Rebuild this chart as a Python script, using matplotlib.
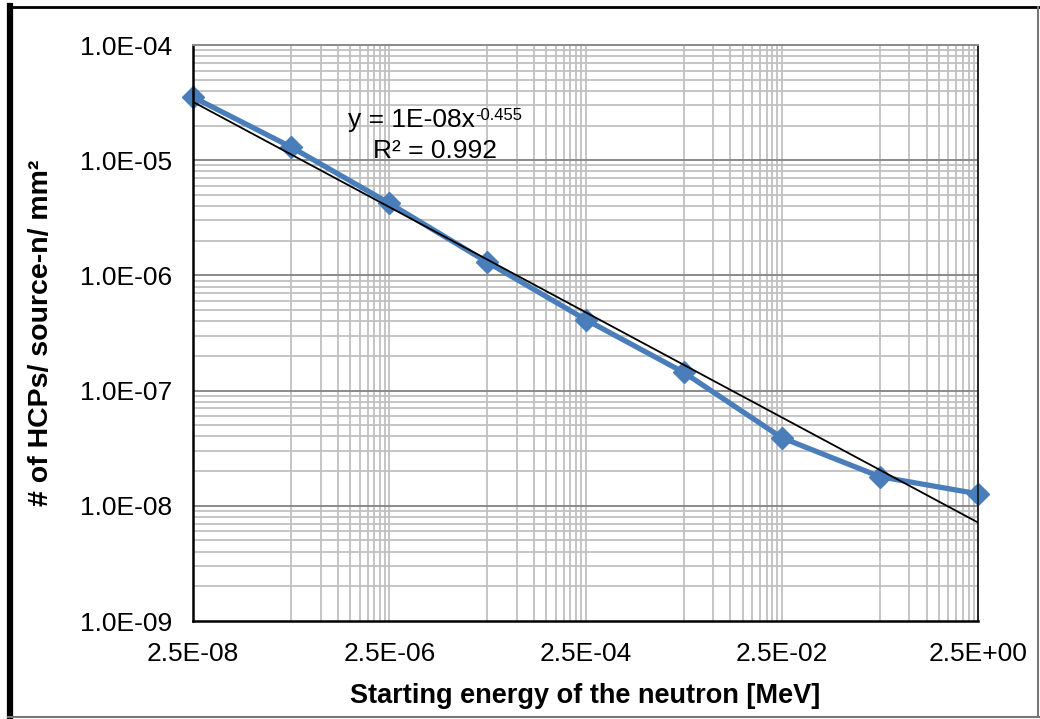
import numpy as np
import matplotlib
matplotlib.use("Agg")
import matplotlib.pyplot as plt
from matplotlib.lines import Line2D
from matplotlib.ticker import FixedLocator, FuncFormatter, NullLocator

plt.rcParams['font.family'] = ['Liberation Sans', 'DejaVu Sans']

# starting energy [MeV] and HCPs per source neutron per mm2
energy = [2.5e-8, 2.5e-7, 2.5e-6, 2.5e-5, 2.5e-4, 2.5e-3, 2.5e-2, 2.5e-1, 2.5e0]
hcps = [3.53e-5, 1.30e-5, 4.23e-6, 1.30e-6, 4.14e-7, 1.44e-7, 3.90e-8, 1.79e-8, 1.27e-8]

x_ticks = [2.5e-8, 2.5e-6, 2.5e-4, 2.5e-2, 2.5e0]
y_ticks = [1e-9, 1e-8, 1e-7, 1e-6, 1e-5, 1e-4]

fig = plt.figure(figsize=(10.4, 7.19), dpi=100)
ax = fig.add_axes([0.1856, 0.1363, 0.7548, 0.8011])
ax.set_xscale('log')
ax.set_yscale('log')
ax.set_xlim(2.5e-8, 2.5e0)
ax.set_ylim(1e-9, 1e-4)

# gridlines drawn by hand, Excel style
light = '#c0c0c0'
for d in range(-9, -4 + 1):
    for k in range(2, 10):
        ax.axhline(k * 10.0 ** d, color=light, lw=1.3, zorder=0)
for d in y_ticks[1:-1]:
    ax.axhline(d, color='#8a8a8a', lw=1.4, zorder=0.5)
for base in [2.5e-7, 2.5e-5, 2.5e-3, 2.5e-1]:
    for k in range(1, 10):
        ax.axvline(k * base, color=light, lw=1.3, zorder=0)
for t in x_ticks[1:-1]:
    ax.axvline(t, color=light, lw=1.3, zorder=0)

# power-law trendline (fit in log-log space)
coef = np.polyfit(np.log10(energy), np.log10(hcps), 1)
xf = np.logspace(np.log10(energy[0]), np.log10(energy[-1]), 200)
ax.plot(xf, 10 ** np.polyval(coef, np.log10(xf)), color='black', lw=1.3, zorder=3)

ax.plot(energy, hcps, color='#4a7ebb', lw=3.8, marker='D', markersize=11,
        zorder=2, clip_on=False)

ax.text(9.5e-7, 1.94e-5, 'y = 1E-08x', fontsize=19, zorder=4)
ax.text(1.9e-5, 2.25e-5, '-0.455', fontsize=12, zorder=4)
ax.text(1.71e-6, 1.04e-5, 'R² = 0.992', fontsize=19, zorder=4)

ax.xaxis.set_major_locator(FixedLocator(x_ticks))
ax.xaxis.set_minor_locator(NullLocator())
ax.yaxis.set_major_locator(FixedLocator(y_ticks))
ax.yaxis.set_minor_locator(NullLocator())
ax.xaxis.set_major_formatter(FuncFormatter(lambda v, p: '%.1E' % v))
ax.yaxis.set_major_formatter(FuncFormatter(lambda v, p: '%.1E' % v))
ax.tick_params(length=0, labelsize=19, pad=15)

ax.spines['left'].set_color('black')
ax.spines['bottom'].set_color('black')
ax.spines['left'].set_linewidth(1.8)
ax.spines['bottom'].set_linewidth(1.8)
ax.spines['top'].set_color('#8a8a8a')
ax.spines['top'].set_linewidth(1.4)
ax.spines['right'].set_color('#222222')
ax.spines['right'].set_linewidth(1.4)

ax.set_xlabel('Starting energy of the neutron [MeV]', fontsize=19.5,
              fontweight='bold', labelpad=12)
ax.set_ylabel('# of HCPs/ source-n/ mm²', fontsize=20.5, fontweight='bold',
              labelpad=19)

# outer frame of the chart area
W, H = 1040, 719
fig.add_artist(Line2D([10 / W, 10 / W], [1 - 6 / H, 1 - 717 / H], color='black', lw=4.5))
fig.add_artist(Line2D([8 / W, 1039 / W], [1 - 7 / H, 1 - 7 / H], color='black', lw=2))
fig.add_artist(Line2D([8 / W, 1039 / W], [1 - 717 / H, 1 - 717 / H], color='#777777', lw=1.5))
fig.add_artist(Line2D([1038 / W, 1038 / W], [1 - 7 / H, 1 - 717 / H], color='#777777', lw=1.5))

fig.savefig('out.png', dpi=100)
